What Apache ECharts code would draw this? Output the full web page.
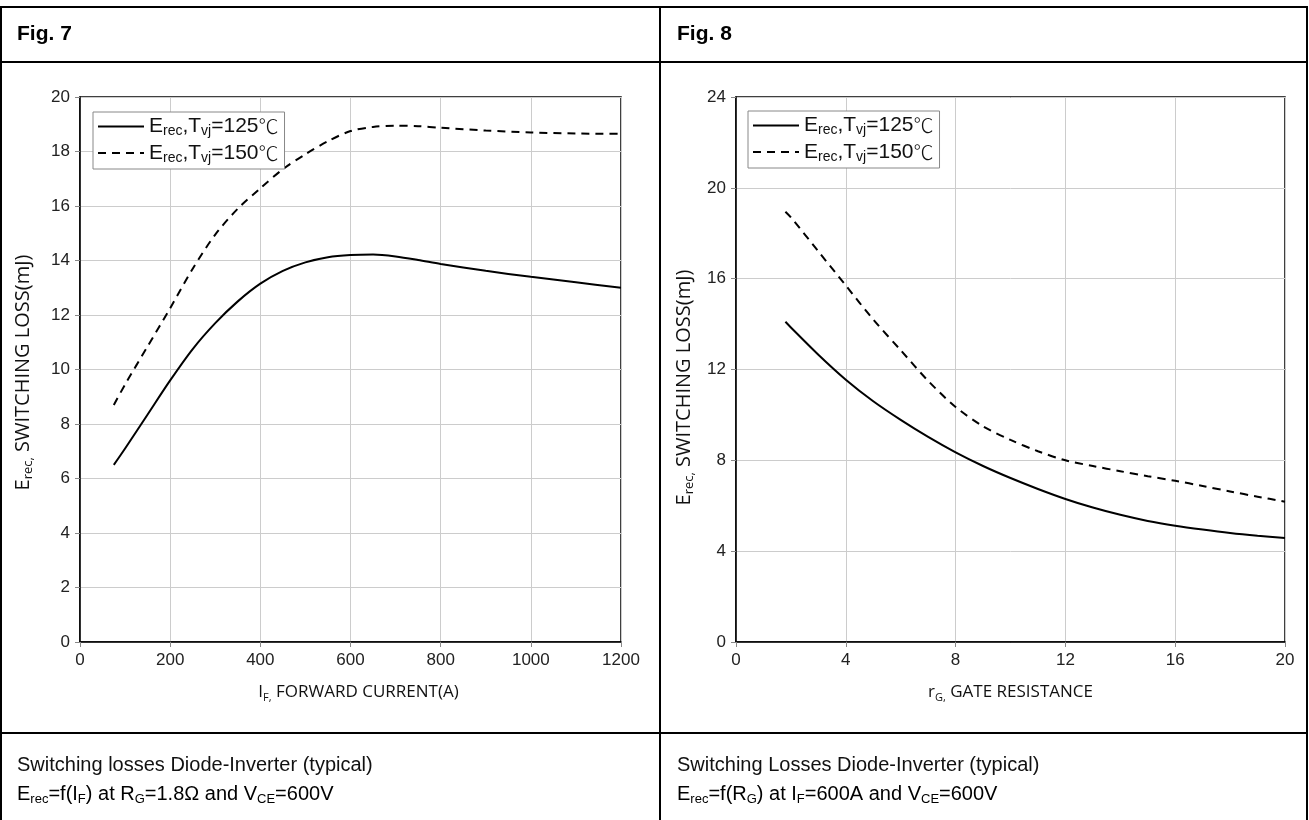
<!DOCTYPE html>
<html>
<head>
<meta charset="utf-8">
<script src="https://cdn.jsdelivr.net/npm/echarts@6/dist/echarts.min.js"></script>
<style>
html, body { margin: 0; padding: 0; background: #fff; }
#chart { width: 1309px; height: 820px; }
</style>
</head>
<body>
<div id="chart"></div>
<script>
// Fig. 7 - Erec against forward current
var currentA = [75, 100, 150, 200, 250, 300, 350, 400, 450, 500, 550, 600, 650, 700, 750, 800, 900, 1000, 1100, 1200];
var erec125Fig7 = [6.5, 7.1, 8.35, 9.6, 10.75, 11.7, 12.5, 13.15, 13.62, 13.93, 14.12, 14.2, 14.22, 14.15, 14.02, 13.87, 13.62, 13.4, 13.2, 13.0];
var erec150Fig7 = [8.7, 9.45, 10.85, 12.25, 13.7, 14.95, 15.9, 16.65, 17.35, 17.9, 18.38, 18.75, 18.9, 18.95, 18.93, 18.87, 18.77, 18.7, 18.66, 18.65];
var fig7XTicks = [0, 200, 400, 600, 800, 1000, 1200];
var fig7YTicks = [0, 2, 4, 6, 8, 10, 12, 14, 16, 18, 20];

// Fig. 8 - Erec against gate resistance
var gateR = [1.8, 2, 3, 4, 5, 6, 7, 8, 9, 10, 11, 12, 13, 14, 15, 16, 17, 18, 19, 20];
var erec125Fig8 = [14.1, 13.85, 12.65, 11.55, 10.6, 9.78, 9.03, 8.35, 7.75, 7.22, 6.74, 6.3, 5.92, 5.6, 5.33, 5.12, 4.95, 4.8, 4.68, 4.58];
var erec150Fig8 = [18.95, 18.7, 17.2, 15.7, 14.2, 12.85, 11.5, 10.35, 9.5, 8.9, 8.4, 8.0, 7.75, 7.52, 7.3, 7.1, 6.87, 6.63, 6.4, 6.18];
var fig8XTicks = [0, 4, 8, 12, 16, 20];
var fig8YTicks = [0, 4, 8, 12, 16, 20, 24];

var name125 = 'Erec,Tvj=125℃';
var name150 = 'Erec,Tvj=150℃';

function pairs(xs, ys) {
  return xs.map(function (x, i) { return [x, ys[i]]; });
}

var subRich = {
  m: { fontFamily: 'Liberation Sans', fontSize: 20, color: '#111', lineHeight: 24 },
  s: { fontFamily: 'Liberation Sans', fontSize: 13, color: '#111', lineHeight: 13, verticalAlign: 'bottom' }
};
var legendRich = {
  m: { fontFamily: 'Liberation Sans', fontSize: 21, color: '#111', lineHeight: 24 },
  s: { fontFamily: 'Liberation Sans', fontSize: 14, color: '#111', lineHeight: 14, verticalAlign: 'bottom' },
  c: { fontFamily: 'Noto Sans CJK SC', fontSize: 20, color: '#111', lineHeight: 24, fontWeight: 300 }
};
function nameRich(size) {
  return {
    m: { fontFamily: 'Open Sans', fontSize: size, color: '#111', lineHeight: size + 4 },
    s: { fontFamily: 'Open Sans', fontSize: Math.round(size * 0.65), color: '#111', lineHeight: Math.round(size * 0.65), verticalAlign: 'bottom' }
  };
}

function legendLabel(name) {
  var t = name === name125 ? '125' : '150';
  return '{m|E}{s|rec}{m|,T}{s|vj}{m|=' + t + '}{c|℃}';
}

function makeAxis(grid, ticks, opts) {
  return Object.assign({
    gridIndex: grid,
    type: 'value',
    min: ticks[0],
    max: ticks[ticks.length - 1],
    interval: ticks[1] - ticks[0],
    axisLine: { show: true, onZero: false, lineStyle: { color: '#000', width: 1.5 } },
    axisTick: { show: true, length: 5, lineStyle: { color: '#888' } },
    axisLabel: {
      fontFamily: 'Liberation Sans', fontSize: 17, color: '#222', margin: 10,
      formatter: function (v) { return String(v); }
    },
    splitLine: { show: true, lineStyle: { color: '#cccccc', width: 1 } },
    nameLocation: 'middle'
  }, opts);
}

function lineSeries(name, xi, data, dashed) {
  return {
    name: name,
    type: 'line',
    xAxisIndex: xi,
    yAxisIndex: xi,
    data: data,
    symbol: 'none',
    smooth: 0.3,
    lineStyle: { color: '#000', width: 2, type: dashed ? [8, 6] : 'solid' },
    itemStyle: { color: '#000' },
    z: 3
  };
}

function makeLegend(left, top) {
  return {
    orient: 'vertical',
    left: left,
    top: top,
    data: [name125, name150],
    selectedMode: false,
    itemWidth: 46,
    itemHeight: 14,
    itemGap: 4,
    padding: [4, 6, 4, 4],
    borderColor: '#888',
    borderWidth: 1,
    backgroundColor: '#fff',
    itemStyle: { opacity: 0 },
    formatter: legendLabel,
    textStyle: { rich: legendRich }
  };
}

var chart = echarts.init(document.getElementById('chart'));

chart.setOption({
  animation: false,
  backgroundColor: '#fff',
  grid: [
    { left: 80, top: 97, width: 541, height: 545, show: true, borderColor: '#000', borderWidth: 1.5, backgroundColor: 'transparent' },
    { left: 736, top: 97, width: 549, height: 545, show: true, borderColor: '#000', borderWidth: 1.5, backgroundColor: 'transparent' }
  ],
  xAxis: [
    makeAxis(0, fig7XTicks, {
      name: '{m|I}{s|F,}{m| FORWARD CURRENT(A)}', nameGap: 40,
      nameTextStyle: { rich: nameRich(17), padding: [0, 0, 0, 16] }
    }),
    makeAxis(1, fig8XTicks, {
      name: '{m|r}{s|G,}{m| GATE RESISTANCE}', nameGap: 40,
      nameTextStyle: { rich: nameRich(17) }
    })
  ],
  yAxis: [
    makeAxis(0, fig7YTicks, {
      name: '{m|E}{s|rec,}{m| SWITCHING LOSS(mJ)}', nameGap: 45,
      nameTextStyle: { rich: nameRich(20), padding: [0, 6, 0, 0] }
    }),
    makeAxis(1, fig8YTicks, {
      name: '{m|E}{s|rec,}{m| SWITCHING LOSS(mJ)}', nameGap: 40,
      nameTextStyle: { rich: nameRich(20), padding: [0, 36, 0, 0] }
    })
  ],
  legend: [makeLegend(93, 112), makeLegend(748, 111)],
  series: [
    lineSeries(name125, 0, pairs(currentA, erec125Fig7), false),
    lineSeries(name150, 0, pairs(currentA, erec150Fig7), true),
    lineSeries(name125, 1, pairs(gateR, erec125Fig8), false),
    lineSeries(name150, 1, pairs(gateR, erec150Fig8), true)
  ],
  graphic: [
    { type: 'rect', z: -1, shape: { x: 1, y: 7, width: 1306, height: 840 }, style: { fill: 'transparent', stroke: '#000', lineWidth: 2 } },
    { type: 'line', shape: { x1: 1, y1: 62, x2: 1308, y2: 62 }, style: { stroke: '#000', lineWidth: 2 } },
    { type: 'line', shape: { x1: 1, y1: 733, x2: 1308, y2: 733 }, style: { stroke: '#000', lineWidth: 2 } },
    { type: 'line', shape: { x1: 660, y1: 7, x2: 660, y2: 820 }, style: { stroke: '#000', lineWidth: 2 } },
    { type: 'text', x: 17, y: 34, style: { text: 'Fig. 7', fontFamily: 'Liberation Sans', fontWeight: 'bold', fontSize: 21, fill: '#000', verticalAlign: 'middle' } },
    { type: 'text', x: 677, y: 34, style: { text: 'Fig. 8', fontFamily: 'Liberation Sans', fontWeight: 'bold', fontSize: 21, fill: '#000', verticalAlign: 'middle' } },
    { type: 'text', x: 17, y: 765, style: { text: 'Switching losses Diode-Inverter (typical)', fontFamily: 'Liberation Sans', fontSize: 20, fill: '#111', verticalAlign: 'middle' } },
    { type: 'text', x: 17, y: 794, style: { text: '{m|E}{s|rec}{m|=f(I}{s|F}{m|) at R}{s|G}{m|=1.8Ω and V}{s|CE}{m|=600V}', rich: subRich, verticalAlign: 'middle' } },
    { type: 'text', x: 677, y: 765, style: { text: 'Switching Losses Diode-Inverter (typical)', fontFamily: 'Liberation Sans', fontSize: 20, fill: '#111', verticalAlign: 'middle' } },
    { type: 'text', x: 677, y: 794, style: { text: '{m|E}{s|rec}{m|=f(R}{s|G}{m|) at I}{s|F}{m|=600A and V}{s|CE}{m|=600V}', rich: subRich, verticalAlign: 'middle' } }
  ]
});
</script>
</body>
</html>
